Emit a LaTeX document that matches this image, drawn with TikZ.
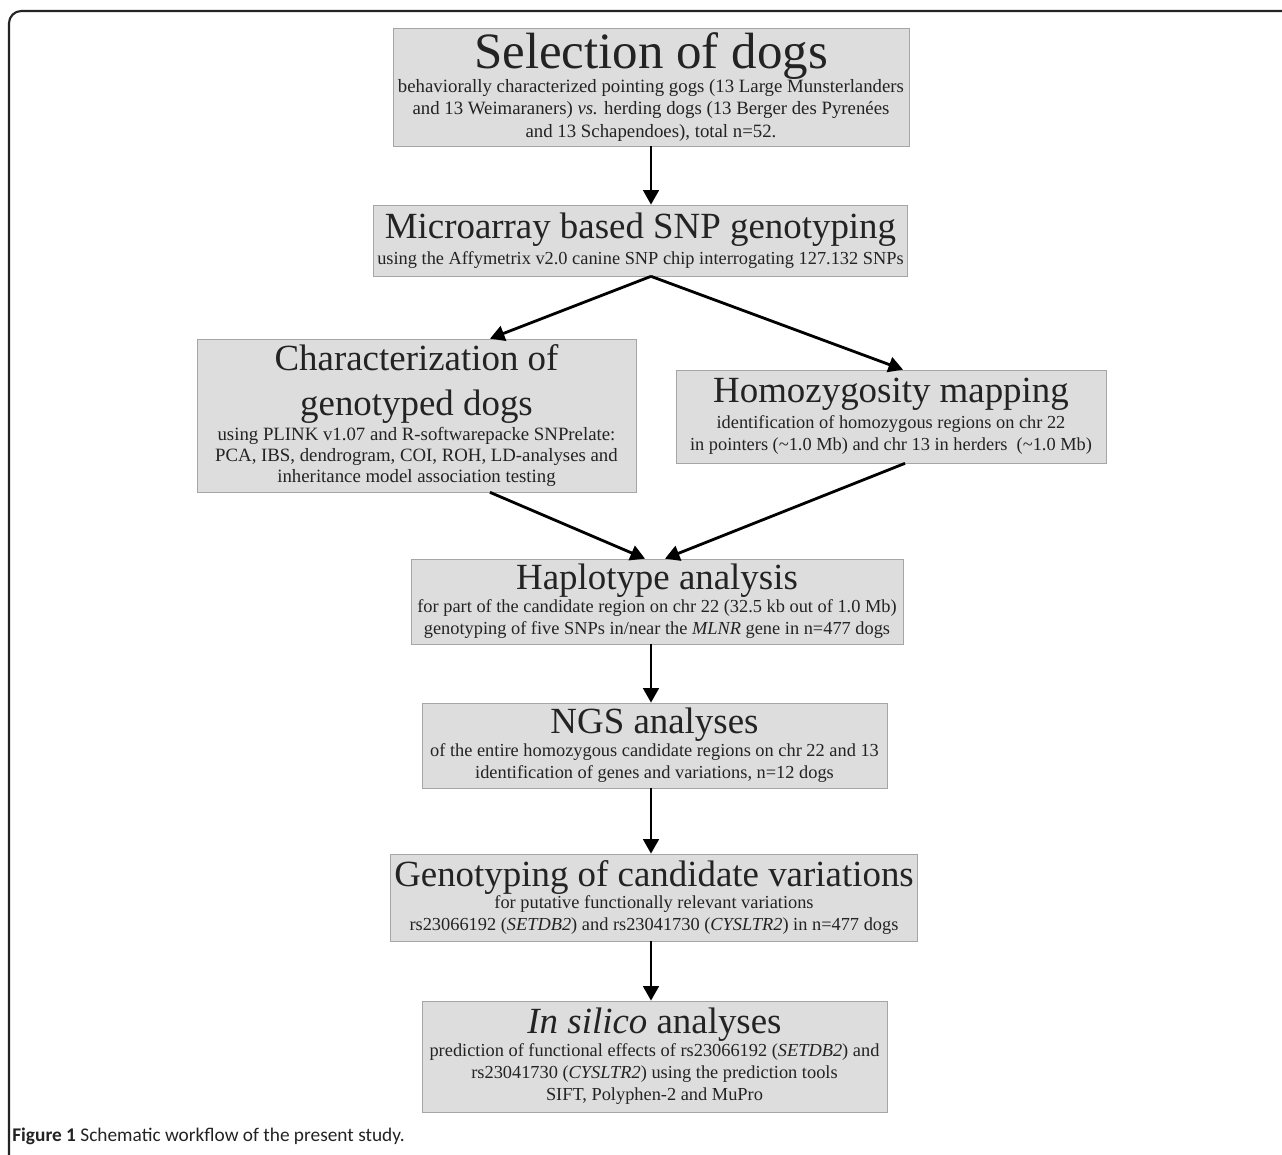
\documentclass[tikz,border=0pt]{standalone}
\usepackage{fontspec}
\setmainfont{Liberation Serif}
\newfontfamily\capfont{Carlito}
\usetikzlibrary{arrows.meta,positioning}
\definecolor{boxgray}{RGB}{221,221,221}
\definecolor{edgegray}{RGB}{165,165,165}
\definecolor{inkgray}{RGB}{35,35,35}
\newcommand{\ttl}{\fontsize{21}{25}\selectfont}
\newcommand{\bigttl}{\fontsize{29}{33}\selectfont}
\newcommand{\bdy}{\fontsize{10.45}{12.75}\selectfont}
\newcommand{\bigbdy}{\fontsize{10.7}{12.75}\selectfont}
\newcommand{\tightbdy}{\fontsize{10.7}{12}\selectfont}

\begin{document}
\begin{tikzpicture}[
    x=0.02cm, y=-0.02cm,
    font=\bdy, text=inkgray,
    stage/.style={draw=edgegray, fill=boxgray, align=center, inner sep=2pt},
    arr/.style={-{Triangle[length=0.29cm,width=0.31cm]}, line width=1.6pt, black}
  ]
  \useasboundingbox (0,0) rectangle (1282,1155);
  \draw[line width=1.2pt, rounded corners=7pt, inkgray] (9,1175) -- (9,11) -- (1300,11);

  \node[stage, font=\bigbdy, minimum width=10.32cm, minimum height=2.36cm] (sel) at (651,87)
    {{\bigttl Selection of dogs}\\[-1pt]
     behaviorally characterized pointing gogs (13 Large Munsterlanders\\
     and 13 Weimaraners) \textit{vs.} herding dogs (13 Berger des Pyrenées\\
     and 13 Schapendoes), total n=52.};
  \node[stage, minimum width=10.58cm, minimum height=1.42cm] (micro) at (640.5,240.5)
    {{\ttl Microarray based SNP genotyping}\\[2pt]
     using the Affymetrix v2.0 canine SNP chip interrogating 127.132 SNPs};
  \node[stage, font=\tightbdy, inner sep=1pt, minimum width=8.78cm, minimum height=3.06cm] (char) at (416.5,415.5)
    {{\ttl Characterization of}\\[10pt]
     {\ttl genotyped dogs}\\[1pt]
     using PLINK v1.07 and R-softwarepacke SNPrelate:\\
     PCA, IBS, dendrogram, COI, ROH, LD-analyses and\\
     inheritance model association testing};
  \node[stage, minimum width=8.6cm, minimum height=1.86cm] (homo) at (891,416.5)
    {{\ttl Homozygosity mapping}\\[2pt]
     identification of homozygous regions on chr 22\\
     in pointers (\textasciitilde1.0 Mb) and chr 13 in herders\ \ (\textasciitilde1.0 Mb)};
  \node[stage, minimum width=9.84cm, minimum height=1.7cm] (hap) at (657,601.5)
    {{\ttl Haplotype analysis}\\
     for part of the candidate region on chr 22 (32.5 kb out of 1.0 Mb)\\
     genotyping of five SNPs in/near the \textit{MLNR} gene in n=477 dogs};
  \node[stage, minimum width=9.3cm, minimum height=1.7cm] (ngs) at (654.5,745.5)
    {{\ttl NGS analyses}\\
     of the entire homozygous candidate regions on chr 22 and 13\\
     identification of genes and variations, n=12 dogs};
  \node[stage, minimum width=10.52cm, minimum height=1.74cm] (gen) at (654,897.5)
    {{\ttl Genotyping of candidate variations}\\
     for putative functionally relevant variations\\
     rs23066192 (\textit{SETDB2}) and rs23041730 (\textit{CYSLTR2}) in n=477 dogs};
  \node[stage, minimum width=9.3cm, minimum height=2.22cm] (sil) at (654.5,1056.5)
    {{\ttl \textit{In silico} analyses}\\
     prediction of functional effects of rs23066192 (\textit{SETDB2}) and\\
     rs23041730 (\textit{CYSLTR2}) using the prediction tools\\
     SIFT, Polyphen-2 and MuPro};

  \node[anchor=base west, inner sep=0pt, text=inkgray,
        font=\capfont\fontsize{11}{13}\selectfont] (cap) at (12,1141)
    {\textbf{Figure 1} Schematic workflow of the present study.};

  % connectors
  \coordinate (fork) at (sel.south |- micro.south);
  \draw[arr] (sel.south) -- (sel.south |- micro.north);
  \draw[arr] (fork) -- ([xshift=1.47cm]char.north);
  \draw[arr] (fork) -- ([xshift=0.24cm]homo.north);
  \draw[arr] ([xshift=1.47cm]char.south) -- ([xshift=-0.24cm]hap.north);
  \draw[arr] ([xshift=0.28cm]homo.south) -- ([xshift=0.16cm]hap.north);
  \draw[arr] (hap.south -| fork) -- (ngs.north -| fork);
  \draw[arr] (ngs.south -| fork) -- (gen.north -| fork);
  \draw[arr] (gen.south -| fork) -- (sil.north -| fork);
\end{tikzpicture}
\end{document}
